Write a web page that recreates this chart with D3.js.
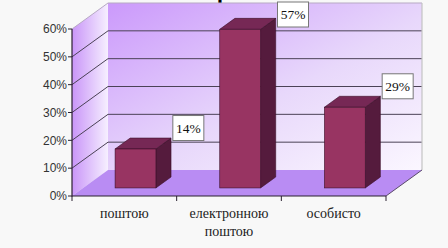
<!DOCTYPE html>
<html><head><meta charset="utf-8">
<script src="https://cdn.jsdelivr.net/npm/d3@7/dist/d3.min.js"></script>
<style>html,body{margin:0;padding:0;background:#f8f8f8;}svg{display:block;}</style>
</head><body>
<svg id="c" width="448" height="248"></svg>
<script>
const categories = [["поштою"], ["електронною", "поштою"], ["особисто"]];
const values = [0.14, 0.57, 0.29];
const labels = ["14%", "57%", "29%"];
const yTicks = [0, 0.1, 0.2, 0.3, 0.4, 0.5, 0.6];
const titleFragment = "р";

const svg = d3.select("#c");
const x0 = 72, x1 = 386, yBase = 196, yTop = 29;
const DX = 36, DY = -26;          // full depth offset
const fFront = 0.31, fDepth = 0.42;

const y = d3.scaleLinear().domain([0, 0.6]).range([yBase, yTop]);
const x = d3.scaleBand().domain(d3.range(categories.length)).range([x0, x1]).paddingInner(0).paddingOuter(0);
const fmt = d3.format(".0%");

const defs = svg.append("defs");
const gBack = defs.append("linearGradient").attr("id", "gBack")
  .attr("x1", "0").attr("y1", "0").attr("x2", "1").attr("y2", "1");
gBack.append("stop").attr("offset", "0").attr("stop-color", "#cb99fb");
gBack.append("stop").attr("offset", "0.55").attr("stop-color", "#e8d8fb");
gBack.append("stop").attr("offset", "1").attr("stop-color", "#fbf7ff");
const gSide = defs.append("linearGradient").attr("id", "gSide")
  .attr("x1", "0").attr("y1", "0").attr("x2", "1").attr("y2", "0");
gSide.append("stop").attr("offset", "0").attr("stop-color", "#c995f8");
gSide.append("stop").attr("offset", "1").attr("stop-color", "#f6efff");

// title fragment (cut off at top, as in the reference)
svg.append("text").attr("x", 217).attr("y", -1)
  .attr("font-family", "Liberation Serif").attr("font-weight", "bold")
  .attr("font-size", 22).attr("fill", "#000").text(titleFragment);

const P = (px, py) => px + "," + py;
// back wall
svg.append("polygon")
  .attr("points", [P(x0+DX, y(0.6)+DY), P(x1+DX, y(0.6)+DY), P(x1+DX, y(0)+DY), P(x0+DX, y(0)+DY)].join(" "))
  .attr("fill", "url(#gBack)");
// side wall
svg.append("polygon")
  .attr("points", [P(x0, y(0.6)), P(x0+DX, y(0.6)+DY), P(x0+DX, y(0)+DY), P(x0, y(0))].join(" "))
  .attr("fill", "url(#gSide)");
// floor
svg.append("polygon")
  .attr("points", [P(x0, y(0)), P(x0+DX, y(0)+DY), P(x1+DX, y(0)+DY), P(x1, y(0))].join(" "))
  .attr("fill", "#b98cf3");

// gridlines
const grid = svg.append("g");
yTicks.filter(t => t > 0).forEach(t => {
  const c = t === 0.6 ? "#b7a9c4" : "#4b4256";
  grid.append("line").attr("x1", x0).attr("y1", y(t)).attr("x2", x0+DX).attr("y2", y(t)+DY)
    .attr("stroke", c).attr("stroke-width", 1);
  grid.append("line").attr("x1", x0+DX).attr("y1", y(t)+DY).attr("x2", x1+DX).attr("y2", y(t)+DY)
    .attr("stroke", c).attr("stroke-width", 1);
});
svg.append("line").attr("x1", x1+DX).attr("y1", y(0.6)+DY).attr("x2", x1+DX).attr("y2", y(0)+DY)
  .attr("stroke", "#c4c4c4").attr("stroke-width", 1.2);
svg.append("line").attr("x1", x1).attr("y1", y(0)).attr("x2", x1+DX).attr("y2", y(0)+DY)
  .attr("stroke", "#5a4a6a").attr("stroke-width", 1);

// bars
const bw = x.bandwidth() * 0.39;
const ox = DX * fFront, oy = DY * fFront;
const dx = DX * fDepth, dy = DY * fDepth;
const bars = svg.append("g");
values.forEach((v, i) => {
  const cx = x(i) + x.bandwidth() / 2;
  const L = cx - bw / 2 + ox, R = cx + bw / 2 + ox;
  const T = y(v) + oy, B = y(0) + oy;
  bars.append("polygon").attr("points", [P(R, T), P(R+dx, T+dy), P(R+dx, B+dy), P(R, B)].join(" "))
    .attr("fill", "#551b3d").attr("stroke", "#3a0f29").attr("stroke-width", 0.6);
  bars.append("polygon").attr("points", [P(L, T), P(L+dx, T+dy), P(R+dx, T+dy), P(R, T)].join(" "))
    .attr("fill", "#762855").attr("stroke", "#3a0f29").attr("stroke-width", 0.6);
  bars.append("rect").attr("x", L).attr("y", T).attr("width", R - L).attr("height", B - T)
    .attr("fill", "#983462").attr("stroke", "#3a0f29").attr("stroke-width", 0.6);
});

// axes
const ax = svg.append("g");
ax.append("line").attr("x1", x0).attr("y1", y(0.6)).attr("x2", x0).attr("y2", y(0) + 0.5)
  .attr("stroke", "#2a2030").attr("stroke-width", 1.2);
ax.append("line").attr("x1", x0).attr("y1", y(0)).attr("x2", x1).attr("y2", y(0))
  .attr("stroke", "#2a2030").attr("stroke-width", 1.2);
yTicks.forEach(t => {
  ax.append("line").attr("x1", x0 - 4).attr("y1", y(t)).attr("x2", x0).attr("y2", y(t))
    .attr("stroke", "#2a2030").attr("stroke-width", 1);
  ax.append("text").attr("x", x0 - 5).attr("y", y(t)).attr("dy", "0.36em")
    .attr("text-anchor", "end").attr("font-family", "Liberation Sans").attr("font-size", 12)
    .attr("fill", "#333").text(fmt(t));
});
d3.range(categories.length + 1).forEach(i => {
  const xx = i < categories.length ? x(i) : x1;
  ax.append("line").attr("x1", xx).attr("y1", y(0)).attr("x2", xx).attr("y2", y(0) + 5)
    .attr("stroke", "#2a2030").attr("stroke-width", 1);
});
categories.forEach((lines, i) => {
  const cx = x(i) + x.bandwidth() / 2;
  const t = ax.append("text").attr("text-anchor", "middle").attr("font-family", "Liberation Serif")
    .attr("font-size", 14).attr("fill", "#222");
  lines.forEach((s, k) => t.append("tspan").attr("x", cx).attr("y", 218 + k * 18).text(s));
});

// data labels (kept inside the plot area, as the reference does)
const lab = svg.append("g");
values.forEach((v, i) => {
  const cx = x(i) + x.bandwidth() / 2 + 64;
  const cy = Math.max(y(v) - 29, 14.5);
  lab.append("rect").attr("x", cx - 15.5).attr("y", cy - 12.5).attr("width", 31).attr("height", 25)
    .attr("fill", "#fff").attr("stroke", "#777").attr("stroke-width", 1);
  lab.append("text").attr("x", cx).attr("y", cy).attr("dy", "0.35em").attr("text-anchor", "middle")
    .attr("font-family", "Liberation Serif").attr("font-size", 13.5).attr("fill", "#111").text(labels[i]);
});
</script>
</body></html>
